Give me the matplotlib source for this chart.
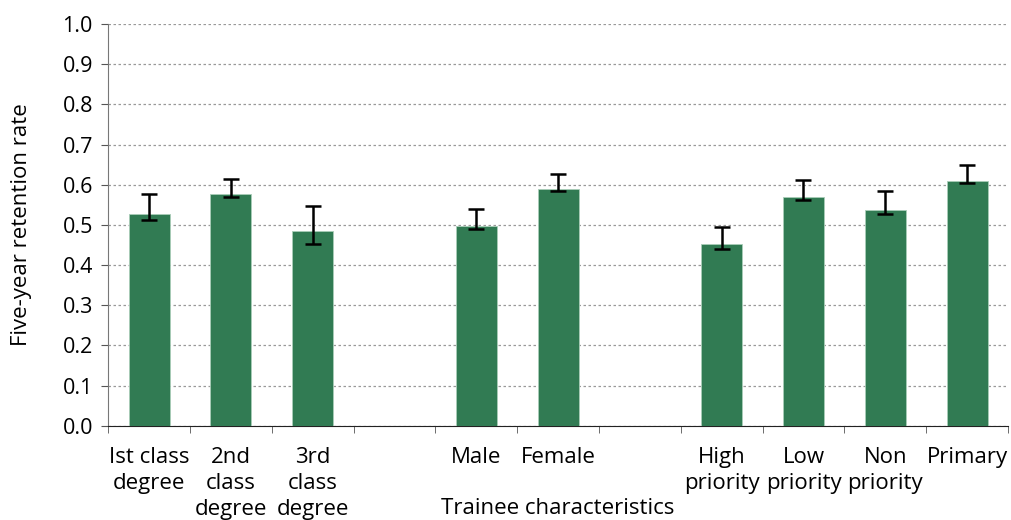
import numpy as np
import matplotlib.pyplot as plt

plt.rcParams['font.family'] = ['Open Sans', 'DejaVu Sans']

# 11 slots, two empty ones separate the groups
labels = ['Ist class\ndegree', '2nd\nclass\ndegree', '3rd\nclass\ndegree', '',
          'Male', 'Female', '',
          'High\npriority', 'Low\npriority', 'Non\npriority', 'Primary']
rate = [0.528, 0.576, 0.484, np.nan, 0.498, 0.590, np.nan, 0.453, 0.570, 0.538, 0.609]
err_lo = [0.511, 0.570, 0.453, np.nan, 0.490, 0.585, np.nan, 0.441, 0.561, 0.526, 0.603]
err_hi = [0.577, 0.613, 0.547, np.nan, 0.540, 0.627, np.nan, 0.496, 0.612, 0.584, 0.648]

rate = np.array(rate)
lo = rate - np.array(err_lo)
hi = np.array(err_hi) - rate
x = np.arange(len(labels))

fig = plt.figure(figsize=(10.11, 5.2), dpi=100)
ax = fig.add_axes([0.107, 0.181, 0.89, 0.773])

ax.bar(x, rate, width=0.5, color='#317b53', edgecolor='#a9cdb8', linewidth=0.6, zorder=3)
ax.errorbar(x, rate, yerr=[lo, hi], fmt='none', ecolor='black', elinewidth=1.8,
            capsize=6, capthick=1.8, zorder=4)

ax.set_xlim(-0.5, len(labels) - 0.5)
ax.set_ylim(0, 1.0)
ax.set_yticks(np.arange(0, 1.01, 0.1))
ax.set_yticklabels([f'{v:.1f}' for v in np.arange(0, 1.01, 0.1)], fontsize=15.5)
ax.yaxis.grid(True, linestyle=(0, (2, 2)), color='#999999', linewidth=0.9, zorder=0)

ax.set_xticks(x)
ax.set_xticklabels(labels, fontsize=16, linespacing=1.32)
ax.set_xticks(np.arange(-0.5, len(labels)), minor=True)
ax.tick_params(axis='x', which='major', length=0, pad=15)
ax.tick_params(axis='x', which='minor', length=5, direction='out', color='#555555')
ax.tick_params(axis='y', length=5, direction='out', color='#555555', pad=6)

for s in ['top', 'right']:
    ax.spines[s].set_visible(False)
ax.spines['left'].set_color('#777777')
ax.spines['bottom'].set_color('#222222')

ax.set_ylabel('Five-year retention rate', fontsize=16, labelpad=22)
ax.set_xlabel('Trainee characteristics', fontsize=16, va='bottom')
ax.xaxis.set_label_coords(0.5, -0.232)

fig.savefig('out.png', dpi=100)
